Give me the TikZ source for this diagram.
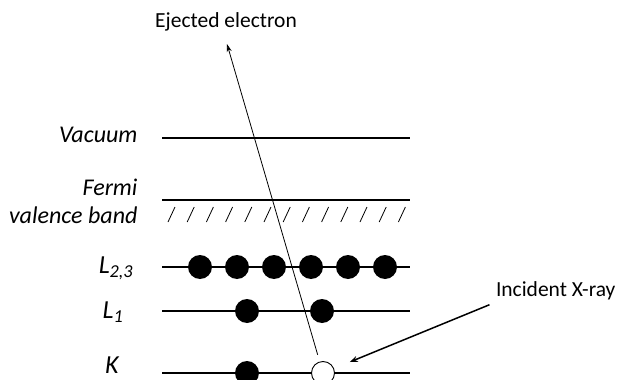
\documentclass[tikz,border=0pt]{standalone}
\usepackage{fontspec}
\setmainfont{Carlito}
\usetikzlibrary{arrows.meta}

\begin{document}
\begin{tikzpicture}[
  x=1pt,y=-1pt,
  font=\fontsize{21.5}{25}\selectfont,
  level/.style={line width=1.4pt},
  lvlabel/.style={font=\fontsize{24}{28}\selectfont\itshape,anchor=east},
  shellname/.style={font=\fontsize{26}{30}\selectfont\itshape},
  electron/.style={circle,fill=black,inner sep=0pt,minimum size=24pt},
  hole/.style={circle,draw,fill=white,line width=0.9pt,inner sep=0pt,minimum size=23pt},
  hatch/.style={line width=0.8pt},
  ray/.style={-{Stealth[length=8pt,width=6pt]},line width=1.5pt},
  eject/.style={-{Stealth[length=8pt,width=5pt]},line width=0.8pt}
]
\useasboundingbox (0,0) rectangle (622,380);

% energy levels
\coordinate (vacL) at (162,138);  \coordinate (vacR) at (410,138);
\coordinate (ferL) at (162,200);  \coordinate (ferR) at (410,200);
\coordinate (lttL) at (162,267);  \coordinate (lttR) at (410,267);
\coordinate (loneL) at (162,311); \coordinate (loneR) at (410,311);
\coordinate (kL) at (162,373);    \coordinate (kR) at (410,373);
\draw[level] (vacL) -- (vacR);
\draw[level] (ferL) -- (ferR);
\draw[level] (lttL) -- (lttR);
\draw[level] (loneL) -- (loneR);
\draw[level] (kL) -- (kR);

% valence band hatching
\foreach \i in {0,...,12}
  \draw[hatch] ({168+19.2*\i},222) -- ({175+19.2*\i},207);

% labels
\node[lvlabel] (vac) at (141,135) {Vacuum};
\node[lvlabel] (fer) at (141,187) {Fermi};
\node[lvlabel] (val) at (141,215) {valence band};
\node[shellname] (ltt) at (116,268) {L\textsubscript{2,3}};
\node[shellname] (lone) at (113,312) {L\textsubscript{1}};
\node[shellname] (kshell) at (112,365) {K};

% electrons
\foreach \i in {1,...,6}
  \node[electron] (e\i) at ({163+37*\i},267) {};
\node[electron] (l1) at (247,311) {};
\node[electron] (l2) at (322,311) {};
\node[electron] (k1) at (247,373) {};
\node[hole] (k2) at (323,373) {};

% photoelectron and incident X-ray
\coordinate (out) at (227,44);
\node (ejtext) at (226,22) {Ejected electron};
\draw[eject,shorten <=7pt] (k2) -- (out);
\node[anchor=east] (xray) at (619,291) {Incident X-ray};
\draw[ray,shorten >=17pt] ([xshift=-3pt,yshift=-1pt]xray.south west) -- (k2);
\end{tikzpicture}
\end{document}
